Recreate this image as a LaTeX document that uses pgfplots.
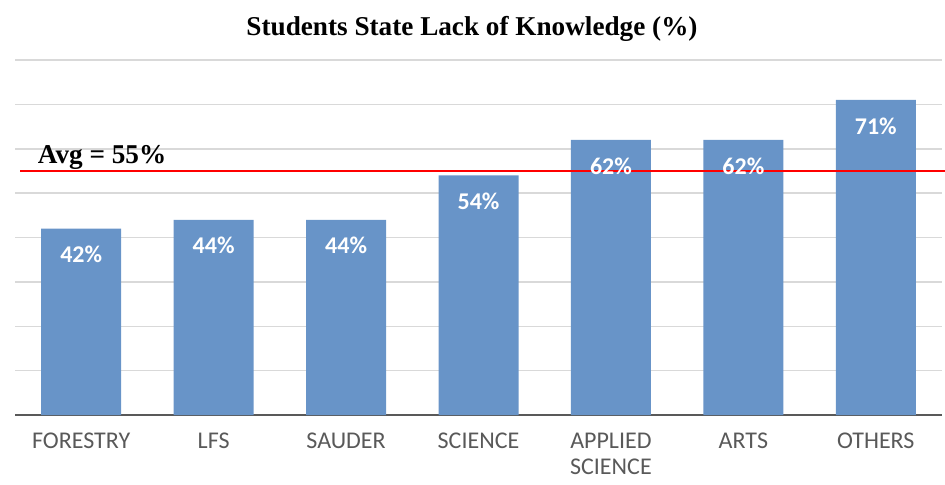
\documentclass[border=0pt]{standalone}
\usepackage{fontspec}
\setmainfont{Liberation Serif}
\newfontfamily\carlito{Carlito}
\usepackage{pgfplots}
\pgfplotsset{compat=1.18}

\definecolor{barblue}{RGB}{104,148,200}
\definecolor{gridgray}{RGB}{217,217,217}
\definecolor{labelgray}{RGB}{89,89,89}

\begin{document}
\begin{tikzpicture}
% 1px of the reference = 0.5pt
\useasboundingbox (0,0) rectangle (472.5pt,242pt);
\node[anchor=base,font=\fontsize{13.6}{16}\selectfont\bfseries] at (236pt,224.5pt)
  {Students State Lack of Knowledge (\%)};
\begin{axis}[
  at={(7.5pt,34.5pt)}, anchor=south west,
  scale only axis,
  width=463.5pt, height=177.5pt,
  xmin=-0.5, xmax=6.5,
  ymin=0, ymax=80,
  clip=false,
  axis line style={draw=none},
  ytick={10,20,...,80}, yticklabels={},
  ymajorgrids,
  grid style={draw=gridgray,line width=0.75pt},
  extra y ticks={0}, extra y tick labels={},
  extra y tick style={grid style={draw=labelgray,line width=1pt}},
  major tick length=0pt,
  xtick=data,
  xticklabels={FORESTRY,LFS,SAUDER,SCIENCE,{APPLIED\\SCIENCE},ARTS,OTHERS},
  xticklabel style={font=\carlito\fontsize{12}{13}\selectfont, text=labelgray,
    align=center, anchor=north, yshift=-8pt, inner sep=1pt},
  ybar, bar width=40pt,
  /pgf/number format/assume math mode=true,
  nodes near coords={\pgfmathprintnumber{\pgfplotspointmeta}\%},
  every node near coord/.append style={font=\carlito\bfseries\fontsize{12}{14}\selectfont,
    text=white, anchor=center, yshift=-13pt},
]
\addplot[fill=barblue, draw=none] coordinates {
  (0,42) (1,44) (2,44) (3,54) (4,62) (5,62) (6,71)
};
\addplot[sharp plot, red, line width=0.75pt, nodes near coords={}, forget plot]
  coordinates {(-0.46,55) (6.53,55)};
\node[anchor=base west, font=\fontsize{13.6}{16}\selectfont\bfseries, inner sep=0pt]
  at (axis cs:-0.33,56.6) {Avg = 55\%};
\end{axis}
\end{tikzpicture}
\end{document}
